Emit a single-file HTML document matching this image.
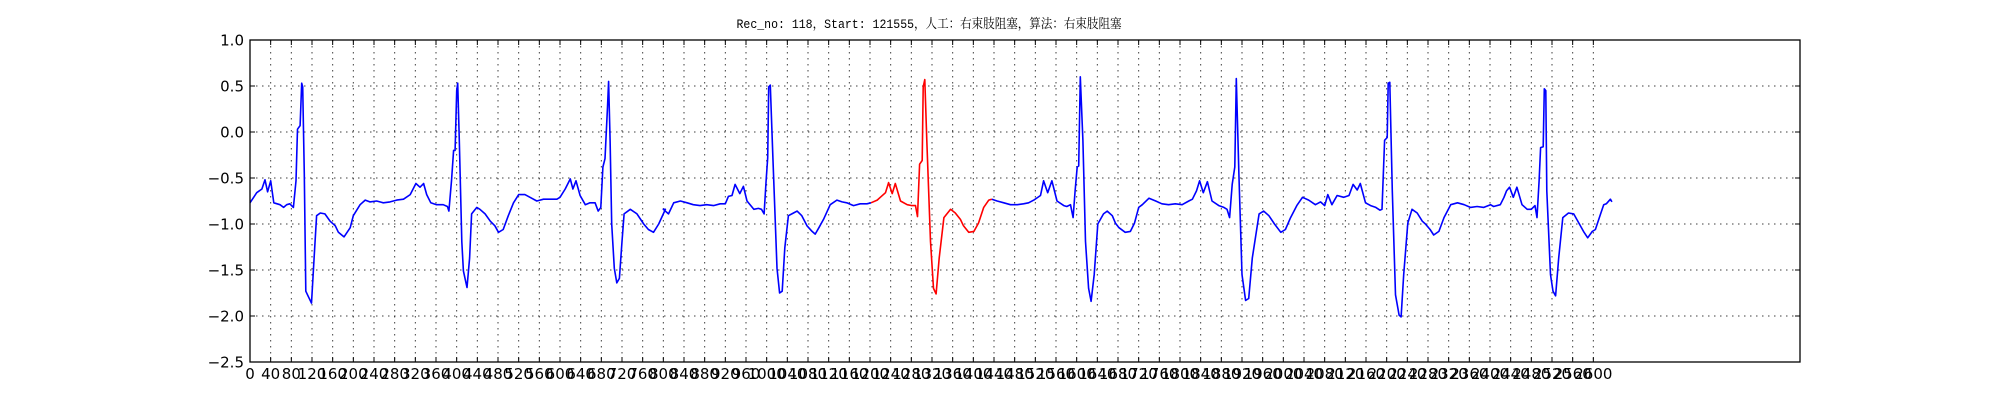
<!DOCTYPE html>
<html><head><meta charset="utf-8"><style>
html,body{margin:0;padding:0;background:#fff;}
svg{display:block;}
</style></head><body>
<svg id="chart" width="2000" height="400" xmlns="http://www.w3.org/2000/svg">
<rect x="0" y="0" width="2000" height="400" fill="#fff"/>
<text x="929" y="28" text-anchor="middle" textLength="385" lengthAdjust="spacingAndGlyphs" font-family="'Liberation Mono','Noto Serif CJK SC','Noto Sans CJK SC',monospace" font-size="13" fill="#000">Rec_no: 118，Start: 121555，人工：右束肢阻塞，算法：右束肢阻塞</text>
<g id="grid"></g>
<g id="series"></g>
<rect x="250" y="40" width="1550" height="322" fill="none" stroke="#000" stroke-width="1.3"/>
<g id="axes"></g>
</svg>
<script>
const xTicks = [];
for (let t = 0; t <= 2600; t += 40) xTicks.push(t);
const yTicks = [1.0, 0.5, 0.0, -0.5, -1.0, -1.5, -2.0, -2.5];
const yTickLabels = ["1.0", "0.5", "0.0", "\u22120.5", "\u22121.0", "\u22121.5", "\u22122.0", "\u22122.5"];
const redStart = 1202;
const redEnd = 1436;
const sampleIdx = [0,13,23,29,34,40,46,58,65,71,77,84,89,92,97,100,102,105,108,113,119,124,129,136,145,155,165,171,182,194,200,213,223,232,245,258,271,284,297,310,321,329,336,342,350,361,374,382,385,390,394,397,400,402,405,410,413,420,425,429,439,445,455,465,474,481,490,500,510,520,532,542,555,568,581,594,600,610,620,625,631,639,649,658,668,674,679,683,687,692,694,697,700,705,710,715,720,724,736,749,762,771,781,791,804,
800,810,820,833,846,858,871,884,897,910,920,926,933,939,948,955,962,975,984,990,995,999,1002,1004,1007,1012,1020,1025,1030,1035,1042,1052,1059,1068,1078,1088,1094,1101,1110,1123,1136,1146,1155,1168,1181,1194,1202,1214,1220,1230,1236,1243,1249,1259,1272,1281,1288,1292,1296,1301,1303,1306,1310,1317,1323,1328,1334,1343,1356,1365,1375,1381,1391,1401,1410,1420,1430,1436,1446,1459,1472,1485,1497,1507,1517,1530,1536,1544,1552,1562,1575,1581,1588,1593,1597,1601,1604,
1607,1612,1617,1623,1628,1634,1641,1652,1659,1669,1675,1682,1694,1704,1712,1720,1727,1740,1753,1765,1778,1791,1804,1817,1824,1832,1838,1845,1853,1862,1875,1885,1891,1896,1901,1906,1909,1914,1920,1927,1933,1940,1953,1962,1972,1983,1995,2004,2014,2026,2037,2049,2062,2072,2080,2086,2094,2104,2117,2127,2135,2143,2149,2159,2169,2179,2187,2191,2196,2201,2203,2206,2211,2217,2224,2228,2233,2241,2249,2259,2269,2275,2284,2291,2301,2311,2324,2337,2350,2362,2375,2388,2401,
2407,2420,2427,2432,2438,2445,2452,2462,2472,2480,2487,2491,2495,2498,2503,2505,2508,2510,2517,2522,2527,2533,2541,2552,2562,2572,2581,2589,2598,2604,2614,2620,2625,2633,2636];
const sampleVal = [-0.77,-0.66,-0.62,-0.52,-0.65,-0.53,-0.77,-0.79,-0.82,-0.79,-0.78,-0.82,-0.53,0.03,0.07,0.53,0.49,-0.46,-1.73,-1.79,-1.86,-1.37,-0.91,-0.88,-0.89,-0.97,-1.02,-1.09,-1.14,-1.04,-0.91,-0.79,-0.74,-0.76,-0.75,-0.77,-0.76,-0.74,-0.73,-0.68,-0.56,-0.60,-0.56,-0.68,-0.77,-0.79,-0.79,-0.81,-0.86,-0.53,-0.20,-0.20,0.45,0.53,-0.09,-1.19,-1.51,-1.69,-1.37,-0.89,-0.82,-0.84,-0.89,-0.97,-1.02,-1.09,-1.06,-0.91,-0.77,-0.68,-0.68,-0.71,-0.75,-0.73,-0.73,-0.73,-0.71,-0.62,-0.51,-0.62,-0.53,-0.69,-0.79,-0.77,-0.77,-0.86,-0.82,-0.38,-0.29,0.27,0.55,-0.09,-1.00,-1.48,-1.64,-1.59,-1.19,-0.89,-0.84,-0.89,-1.00,-1.06,-1.09,-1.00,-0.84,
-0.84,-0.89,-0.77,-0.75,-0.77,-0.79,-0.80,-0.79,-0.80,-0.78,-0.78,-0.70,-0.69,-0.57,-0.67,-0.59,-0.75,-0.84,-0.83,-0.84,-0.89,-0.53,-0.28,0.49,0.51,-0.28,-1.48,-1.75,-1.73,-1.26,-0.91,-0.88,-0.86,-0.91,-1.02,-1.08,-1.11,-1.04,-0.95,-0.79,-0.74,-0.76,-0.77,-0.80,-0.78,-0.78,-0.77,-0.74,-0.71,-0.66,-0.55,-0.67,-0.56,-0.75,-0.79,-0.80,-0.80,-0.92,-0.35,-0.31,0.49,0.57,-0.09,-1.19,-1.70,-1.76,-1.37,-0.93,-0.84,-0.88,-0.95,-1.02,-1.09,-1.08,-0.99,-0.82,-0.74,-0.73,-0.75,-0.77,-0.79,-0.79,-0.78,-0.77,-0.74,-0.69,-0.53,-0.66,-0.53,-0.75,-0.80,-0.81,-0.79,-0.93,-0.64,-0.38,-0.37,0.60,
-0.09,-1.19,-1.70,-1.84,-1.55,-1.00,-0.89,-0.86,-0.91,-0.99,-1.04,-1.09,-1.08,-0.99,-0.82,-0.79,-0.72,-0.75,-0.78,-0.79,-0.78,-0.79,-0.75,-0.73,-0.64,-0.53,-0.66,-0.54,-0.75,-0.80,-0.82,-0.84,-0.93,-0.57,-0.38,0.58,-0.46,-1.55,-1.83,-1.81,-1.37,-0.89,-0.86,-0.91,-1.00,-1.09,-1.06,-0.93,-0.80,-0.71,-0.74,-0.79,-0.76,-0.80,-0.68,-0.79,-0.69,-0.71,-0.69,-0.57,-0.63,-0.56,-0.77,-0.80,-0.82,-0.85,-0.84,-0.09,-0.06,0.53,0.54,-0.64,-1.77,-1.99,-2.01,-1.55,-0.99,-0.84,-0.88,-0.97,-1.00,-1.06,-1.12,-1.08,-0.93,-0.79,-0.77,-0.79,-0.82,-0.81,-0.82,-0.79,-0.81,
-0.79,-0.71,-0.64,-0.60,-0.71,-0.60,-0.79,-0.84,-0.84,-0.80,-0.93,-0.53,-0.17,-0.16,0.47,0.45,-0.64,-1.55,-1.73,-1.78,-1.37,-0.93,-0.88,-0.89,-0.99,-1.08,-1.15,-1.08,-1.06,-0.89,-0.79,-0.78,-0.73,-0.76,-0.74];

const X0 = 250, X1 = 1800, Y0 = 40, Y1 = 362;
const xMin = 0, xMax = 3000, yMin = -2.5, yMax = 1.0;
function xs(v){ return X0 + (v - xMin) / (xMax - xMin) * (X1 - X0); }
function ys(v){ return Y1 - (v - yMin) / (yMax - yMin) * (Y1 - Y0); }
const NS = "http://www.w3.org/2000/svg";
const grid = document.getElementById('grid');
const axes = document.getElementById('axes');
const series = document.getElementById('series');
function mk(tag, attrs){ const e = document.createElementNS(NS, tag); for (const k in attrs) e.setAttribute(k, attrs[k]); return e; }

xTicks.forEach(t => {
  const x = xs(t);
  const g = mk('line', {x1:x, x2:x, y1:Y0, y2:Y1, stroke:'#000', 'stroke-width':1, 'stroke-dasharray':'1.5,4.5', opacity:0.75});
  
  
  grid.appendChild(g);
  const tb = mk('line', {x1:x, x2:x, y1:Y1, y2:Y1-5, stroke:'#000', 'stroke-width':1});
  
  
  axes.appendChild(tb);
  const tt = mk('line', {x1:x, x2:x, y1:Y0, y2:Y0+5, stroke:'#000', 'stroke-width':1});
  
  
  axes.appendChild(tt);
  const lb = mk('text', {x:x, y:Y1+17, 'text-anchor':'middle', 'font-family':"'DejaVu Sans','Liberation Sans',sans-serif", 'font-size':15, fill:'#000'});
  lb.textContent = String(t);
  
  
  axes.appendChild(lb);
});
yTicks.forEach((t, i) => {
  const y = ys(t);
  const g = mk('line', {x1:X0, x2:X1, y1:y, y2:y, stroke:'#000', 'stroke-width':1, 'stroke-dasharray':'1.5,4.5', opacity:0.75});
  
  
  grid.appendChild(g);
  const tl = mk('line', {x1:X0, x2:X0+5, y1:y, y2:y, stroke:'#000', 'stroke-width':1});
  
  
  axes.appendChild(tl);
  const tr = mk('line', {x1:X1, x2:X1-5, y1:y, y2:y, stroke:'#000', 'stroke-width':1});
  
  
  axes.appendChild(tr);
  const lb = mk('text', {x:X0-6, y:y+5.5, 'text-anchor':'end', 'font-family':"'DejaVu Sans','Liberation Sans',sans-serif", 'font-size':15, fill:'#000'});
  lb.textContent = yTickLabels[i];
  
  
  axes.appendChild(lb);
});

function ptsFor(filter){
  const p = [];
  for (let i = 0; i < sampleIdx.length; i++) {
    if (filter(sampleIdx[i])) p.push(xs(sampleIdx[i]).toFixed(1) + ',' + ys(sampleVal[i]).toFixed(1));
  }
  return p.join(' ');
}
const seg1 = mk('polyline', {points: ptsFor(s => s <= redStart), fill:'none', stroke:'#0000ff', 'stroke-width':1.6, 'stroke-linejoin':'round'});


series.appendChild(seg1);
const seg2 = mk('polyline', {points: ptsFor(s => s >= redStart && s <= redEnd), fill:'none', stroke:'#ff0000', 'stroke-width':1.6, 'stroke-linejoin':'round'});


series.appendChild(seg2);
const seg3 = mk('polyline', {points: ptsFor(s => s >= redEnd), fill:'none', stroke:'#0000ff', 'stroke-width':1.6, 'stroke-linejoin':'round'});


series.appendChild(seg3);
</script>
</body></html>
